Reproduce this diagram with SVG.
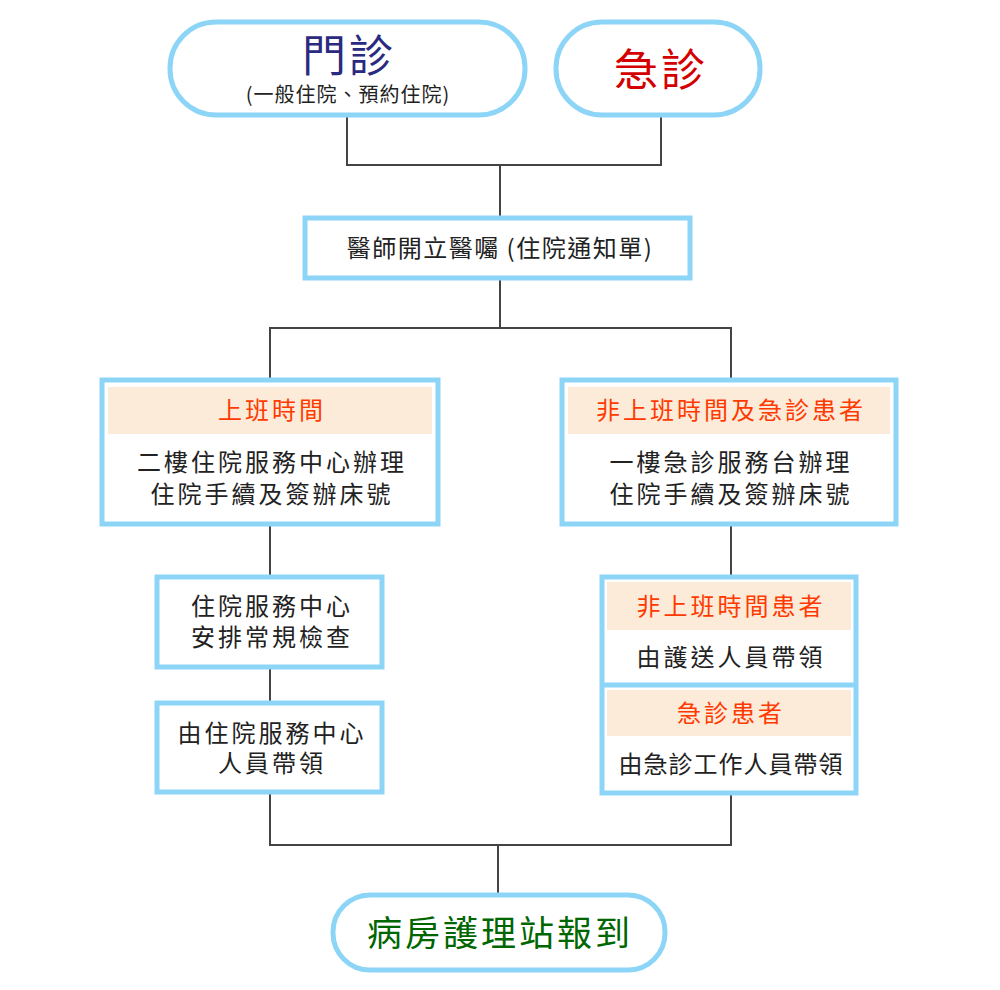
<svg xmlns="http://www.w3.org/2000/svg" width="1000" height="990" viewBox="0 0 1000 990">
<style>
.b{fill:#fff;stroke:#8dd5f7;stroke-width:5}
.h{fill:#fdebd9}
text{font-family:"Noto Sans CJK TC","Noto Sans",sans-serif;text-anchor:middle}
.t{font-size:24px;fill:#222;letter-spacing:3px}
.o{font-size:24px;fill:#ff3a00;letter-spacing:3px}
.c{fill:none;stroke:#444;stroke-width:2}
</style>
<rect width="1000" height="990" fill="#fff"/>
<g id="connectors" class="c">
<path d="M347 115V165H661V115M500 165V218"/>
<path d="M500 278V328M270 380V328H731V380"/>
<path d="M270 524V577M270 667V703M731 524V577"/>
<path d="M270 792V845H731V793M498 845V895"/>
</g>
<g id="outpatient"><rect class="b" x="170" y="22" width="355" height="93" rx="46"/>
<text x="349" y="72" font-size="44" fill="#2a2a80" letter-spacing="3">門診</text>
<text x="348" y="102" font-size="20" fill="#222" letter-spacing="1">(一般住院、預約住院)</text></g>
<g id="emergency"><rect class="b" x="556" y="22" width="204" height="93" rx="46"/>
<text x="661" y="86" font-size="44" fill="#d40000" letter-spacing="3">急診</text></g>
<g id="order"><rect class="b" x="305" y="218" width="385" height="60"/>
<text class="t" x="500" y="257" style="letter-spacing:1.5px">醫師開立醫囑 (住院通知單)</text></g>
<g id="work"><rect class="b" x="102" y="380" width="336" height="144"/>
<rect class="h" x="108" y="387" width="324" height="47"/>
<text class="o" x="272" y="419">上班時間</text>
<text class="t" x="272" y="471">二樓住院服務中心辦理</text>
<text class="t" x="272" y="503">住院手續及簽辦床號</text></g>
<g id="offwork"><rect class="b" x="562" y="380" width="334" height="144"/>
<rect class="h" x="568" y="387" width="322" height="47"/>
<text class="o" x="731" y="419">非上班時間及急診患者</text>
<text class="t" x="731" y="471">一樓急診服務台辦理</text>
<text class="t" x="731" y="503">住院手續及簽辦床號</text></g>
<g id="exam"><rect class="b" x="157" y="577" width="225" height="90"/>
<text class="t" x="272" y="615">住院服務中心</text>
<text class="t" x="272" y="646">安排常規檢查</text></g>
<g id="lead1"><rect class="b" x="157" y="703" width="225" height="89"/>
<text class="t" x="272" y="742">由住院服務中心</text>
<text class="t" x="272" y="772">人員帶領</text></g>
<g id="lead2"><rect class="b" x="602" y="577" width="254" height="216"/>
<line x1="602" y1="685" x2="856" y2="685" stroke="#8dd5f7" stroke-width="5"/>
<rect class="h" x="607" y="582" width="244" height="48"/>
<rect class="h" x="607" y="690" width="244" height="46"/>
<text class="o" x="731" y="615">非上班時間患者</text>
<text class="t" x="731" y="666">由護送人員帶領</text>
<text class="o" x="731" y="722">急診患者</text>
<text class="t" x="731" y="773" style="letter-spacing:1px">由急診工作人員帶領</text></g>
<g id="ward"><rect class="b" x="333" y="895" width="332" height="75" rx="37"/>
<text x="500" y="946" font-size="35" fill="#006600" letter-spacing="3">病房護理站報到</text></g>
</svg>
